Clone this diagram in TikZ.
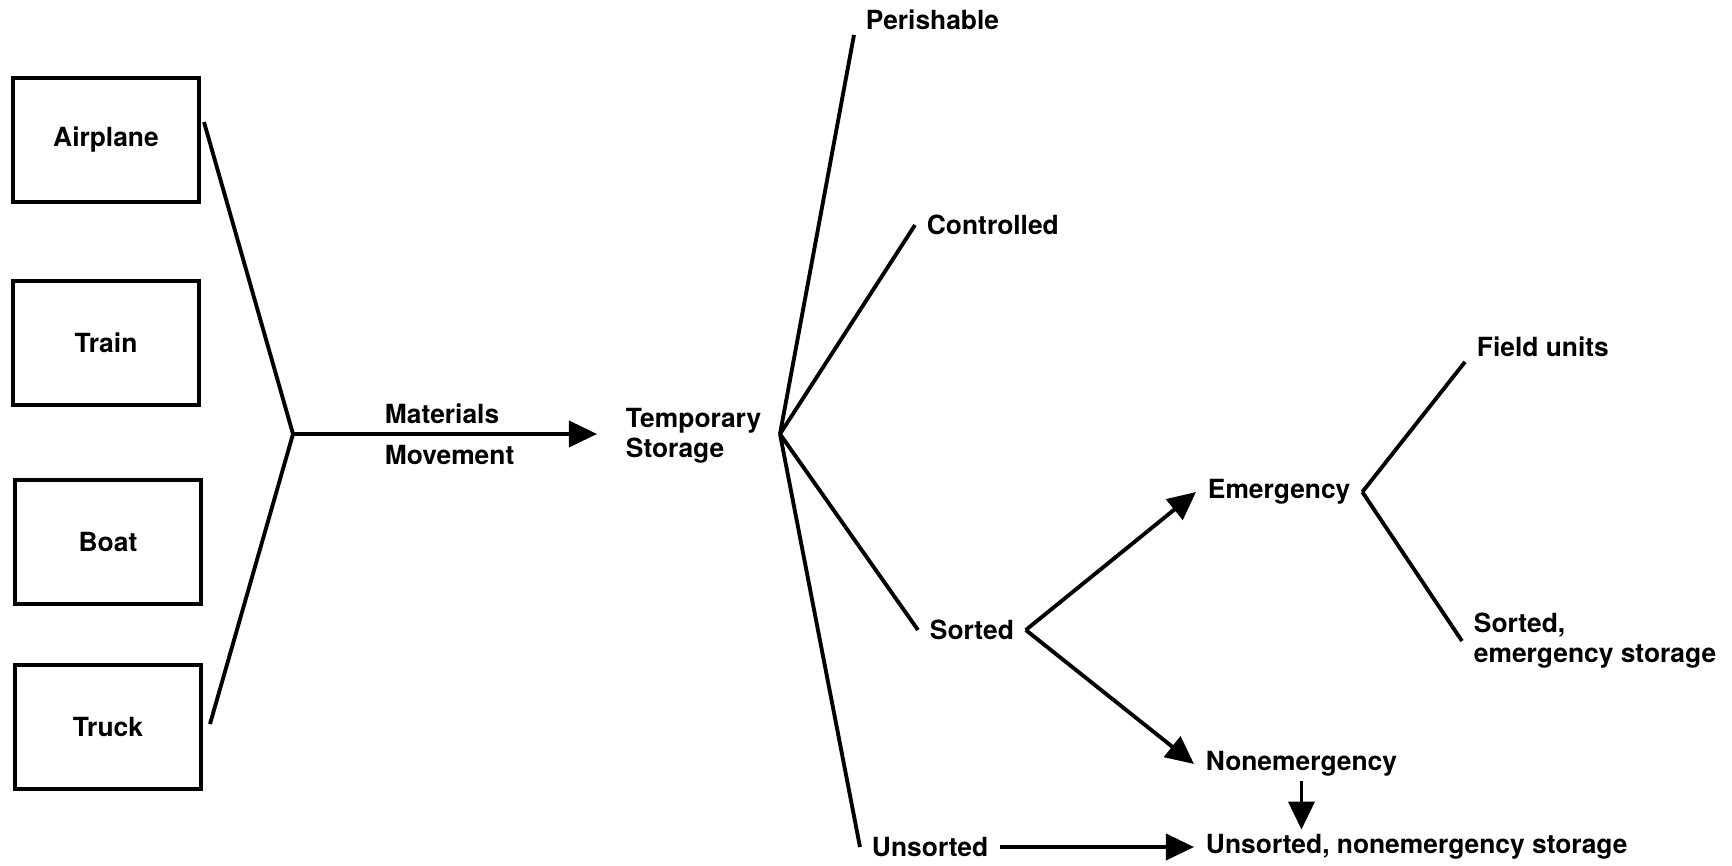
\documentclass[tikz,border=0pt]{standalone}
\usepackage{fontspec}
\setmainfont{TeX Gyre Heros}
\usetikzlibrary{arrows.meta}
\begin{document}
\begin{tikzpicture}[x=0.01cm,y=-0.01cm,line width=1.1pt,
  lbl/.style={font=\fontsize{7.5}{8.5}\selectfont\bfseries,inner xsep=1mm,inner ysep=0.3mm,align=left},
  vehicle/.style={lbl,draw,minimum width=1.86cm,minimum height=1.24cm,align=center},
  arr/.style={-{Triangle[length=2.8mm,width=2.6mm]}}]
\useasboundingbox (0,0) rectangle (1732,866);
% the carriers
\node[vehicle] (air)   at (106,140) {Airplane};
\node[vehicle] (train) at (106,343) {Train};
\node[vehicle] (boat)  at (108,542) {Boat};
\node[vehicle] (truck) at (108,727) {Truck};
\coordinate (merge) at (293,434);
\draw ([shift={(3,-18)}]air.east) -- (merge) -- ([shift={(7,-3)}]truck.east);
% materials movement into storage
\node[lbl,anchor=west] (temp) at (614,436) {Temporary\\Storage};
\node[lbl,anchor=west] (matl) at (373,414) {Materials};
\node[lbl,anchor=west] (mvmt) at (373,455) {Movement};
\draw[arr,shorten >=1.7mm] (merge) -- (merge -| temp.west);
% the four kinds of storage
\coordinate (fan) at (780,434);
\node[lbl,anchor=west] (perish) at (854,20)  {Perishable};
\node[lbl,anchor=west] (ctrl)   at (915,225) {Controlled};
\node[lbl,anchor=west] (sorted) at (918,630) {Sorted};
\node[lbl,anchor=west] (unsort) at (860,847) {Unsorted};
\draw (fan) -- (perish.south west);
\draw (fan) -- (ctrl.west);
\draw (fan) -- (sorted.west);
\draw (fan) -- (unsort.west);
% sorted goods
\node[lbl,anchor=west] (emerg)   at (1196,492) {Emergency};
\node[lbl,anchor=west] (nonem)   at (1194,764) {Nonemergency};
\node[lbl,anchor=west] (unstore) at (1194,847) {Unsorted, nonemergency storage};
\draw[arr] (sorted.east) -- (emerg.west);
\draw[arr] (sorted.east) -- (nonem.west);
\draw[arr] (nonem.south) -- (nonem.south |- unstore.north);
\draw[arr] (unsort.east) -- (unstore.west);
% emergency goods
\node[lbl,anchor=west] (field)  at (1465,347) {Field units};
\node[lbl,anchor=west] (sortem) at (1462,641) {Sorted,\\emergency storage};
\draw (emerg.east) -- (field.south west);
\draw (emerg.east) -- (sortem.west);
\end{tikzpicture}
\end{document}
